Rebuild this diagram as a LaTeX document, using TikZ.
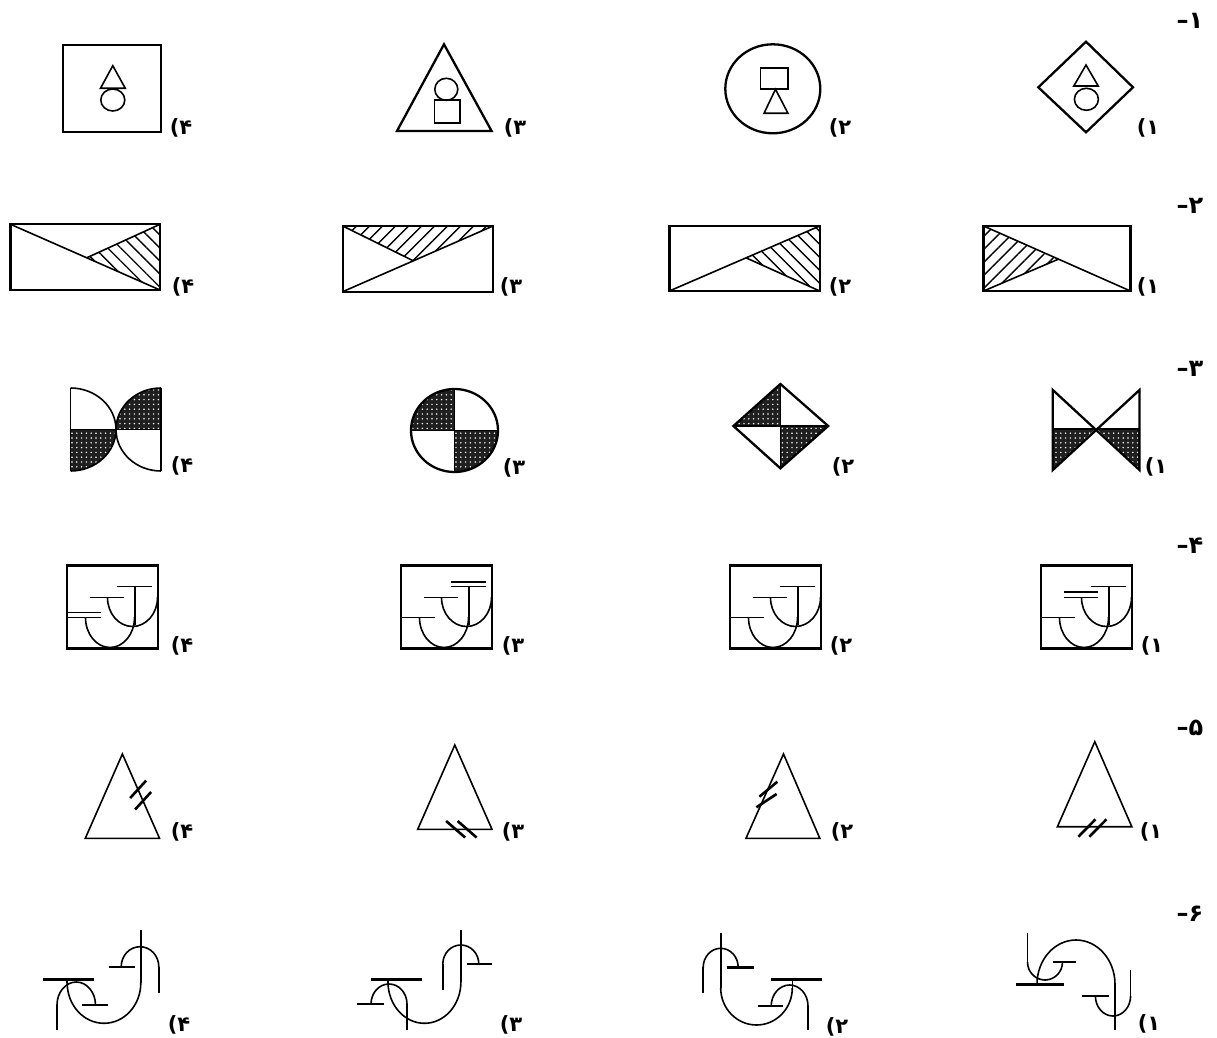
\documentclass[tikz,border=0pt]{standalone}
\usepackage{fontspec}
\newfontfamily\fa{DejaVu Sans}
\usetikzlibrary{calc,patterns.meta}
\tikzset{
  frame/.style={line width=1.15pt},
  fig/.style={line width=0.8pt},
  curve/.style={line width=0.8pt},
  bar/.style={line width=0.9pt},
  hbar/.style={line width=1.2pt},
  tick/.style={line width=1.3pt},
  lbl/.style={font=\fa\bfseries\fontsize{10.5}{12}\selectfont, inner sep=0pt},
  qlbl/.style={font=\fa\bfseries\fontsize{12}{14}\selectfont, inner sep=0pt},
  hatchA/.style={pattern={Lines[angle=45,distance=4.6pt,line width=0.7pt]}},
  hatchB/.style={pattern={Lines[angle=-45,distance=4.6pt,line width=0.7pt]}},
}
\newcommand\LowHalf[4]{\begin{scope}\clip ({#1-#3-3},{#2}) rectangle ({#1+#3+3},{#2+#4+3});\draw[curve] ({#1},{#2}) ellipse[x radius=#3,y radius=#4];\end{scope}}
\newcommand\UpHalf[4]{\begin{scope}\clip ({#1-#3-3},{#2-#4-3}) rectangle ({#1+#3+3},{#2});\draw[curve] ({#1},{#2}) ellipse[x radius=#3,y radius=#4];\end{scope}}
\newcommand\Stip[1]{\fill[black!88] #1; \fill[pattern={Dots[distance=2.4pt,radius=0.42pt]},pattern color=white] #1;}
\newcommand\Jfig[2]{%
  \draw[frame] (#1,#2) rectangle ({#1+91},{#2+83});
  \draw[bar] ({#1+50},{#2+21}) -- ({#1+85},{#2+21});
  \draw[bar] ({#1+68},{#2+21}) -- ({#1+68},{#2+59});
  \draw[bar] ({#1+23},{#2+32}) -- ({#1+57},{#2+32});
  \LowHalf{#1+65.5}{#2+32}{25}{29}
  \draw[bar] (#1,{#2+52}) -- ({#1+34},{#2+52});
  \LowHalf{#1+43}{#2+52}{24.5}{30}
}
\begin{document}
\begin{tikzpicture}[x=0.5pt,y=-0.5pt]
\path[use as bounding box, fill=white] (0,0) rectangle (1217,1038);

% ---------------- Row 1 ----------------
\node[qlbl] (q1) at (1190,21) {–۱};
% opt 4
\draw[frame] (63,45) rectangle (161,131.7);
\draw[fig] (112.8,65.7) -- (100.5,88.3) -- (125.3,88.3) -- cycle;
\draw[fig] (112.8,100) ellipse[x radius=12,y radius=11];
\node[lbl] (a14) at (181,128) {(۴};
% opt 3
\draw[frame] (444,44.3) -- (397,131) -- (491.6,131) -- cycle;
\draw[fig] (446.3,89.3) ellipse[x radius=11.5,y radius=11];
\draw[fig] (434.4,100.3) rectangle (459.7,123.3);
\node[lbl] (a13) at (515,128) {(۳};
% opt 2
\draw[frame] (772.8,88.8) ellipse[x radius=47.5,y radius=44.5];
\draw[fig] (760.6,68.3) rectangle (788,89.3);
\draw[fig] (775.5,89.3) -- (764,113.3) -- (788,113.3) -- cycle;
\node[lbl] (a12) at (840,128) {(۲};
% opt 1
\draw[frame] (1086,41.7) -- (1133,87.3) -- (1086,132.3) -- (1038.3,87.3) -- cycle;
\draw[fig] (1086,65) -- (1073.8,86) -- (1098.2,86) -- cycle;
\draw[fig] (1086.4,99.3) ellipse[x radius=12,y radius=11];
\node[lbl] (a11) at (1148,128) {(۱};

% ---------------- Row 2 ----------------
\node[qlbl] (q2) at (1190,206) {–۲};
% opt 4
\coordinate (p24) at ($(10.5,224.3)!0.51!(160,290)$);
\fill[hatchB] (p24) -- (160,224.3) -- (160,290) -- cycle;
\draw[frame] (10.5,224.3) rectangle (160,290);
\draw[fig] (10.5,224.3) -- (160,290);
\draw[fig] (p24) -- (160,224.3);
\node[lbl] (a24) at (183,287) {(۴};
% opt 3
\coordinate (p23) at ($(342.7,291.7)!0.47!(493,226)$);
\fill[hatchA] (342.7,226) -- (493,226) -- (p23) -- cycle;
\draw[frame] (342.7,226) rectangle (493,291.7);
\draw[fig] (342.7,291.7) -- (493,226);
\draw[fig] (342.7,226) -- (p23);
\node[lbl] (a23) at (511,287) {(۳};
% opt 2
\coordinate (p22) at ($(669.4,291)!0.51!(819.7,226)$);
\fill[hatchB] (p22) -- (819.7,226) -- (819.7,291) -- cycle;
\draw[frame] (669.4,226) rectangle (819.7,291);
\draw[fig] (669.4,291) -- (819.7,226);
\draw[fig] (p22) -- (819.7,291);
\node[lbl] (a22) at (840,287) {(۲};
% opt 1
\coordinate (p21) at ($(983.6,226)!0.51!(1130.4,291)$);
\fill[hatchA] (983.6,226) -- (p21) -- (983.6,291) -- cycle;
\draw[frame] (983.6,226) rectangle (1130.4,291);
\draw[fig] (983.6,226) -- (1130.4,291);
\draw[fig] (p21) -- (983.6,291);
\node[lbl] (a21) at (1148,287) {(۱};

% ---------------- Row 3 ----------------
\node[qlbl] (q3) at (1190,369) {–۳};
% opt 4
\begin{scope}\clip (70.5,429.5) rectangle (120,475);
  \Stip{(70.5,429.5) ellipse[x radius=45.5,y radius=41.5]}
\end{scope}
\begin{scope}\clip (110,380) rectangle (161,429.5);
  \Stip{(161,429.5) ellipse[x radius=45,y radius=41.5]}
\end{scope}
\begin{scope}\clip (70.5,380) rectangle (122,480);
  \draw[fig] (70.5,429.5) ellipse[x radius=45.5,y radius=41.5];
\end{scope}
\begin{scope}\clip (110,380) rectangle (161,480);
  \draw[fig] (161,429.5) ellipse[x radius=45,y radius=41.5];
\end{scope}
\draw[fig] (70.5,388) -- (70.5,471);
\draw[fig] (161,388) -- (161,471);
\draw[fig] (70.5,429.5) -- (161,429.5);
\node[lbl] (a34) at (182,466) {(۴};
% opt 3
\begin{scope}\clip (405,385) rectangle (454.5,430.5);
  \Stip{(454.5,430.5) ellipse[x radius=43.5,y radius=41.5]}
\end{scope}
\begin{scope}\clip (454.5,430.5) rectangle (505,476);
  \Stip{(454.5,430.5) ellipse[x radius=43.5,y radius=41.5]}
\end{scope}
\draw[frame] (454.5,430.5) ellipse[x radius=43.5,y radius=41.5];
\draw[fig] (454.5,389) -- (454.5,472);
\draw[fig] (411,430.5) -- (498,430.5);
\node[lbl] (a33) at (514,468) {(۳};
% opt 2
\Stip{(780.4,384) -- (780.4,426) -- (733.4,426) -- cycle}
\Stip{(780.4,426) -- (828.2,426) -- (780.4,468.3) -- cycle}
\draw[frame] (780.4,384) -- (828.2,426) -- (780.4,468.3) -- (733.4,426) -- cycle;
\draw[fig] (780.4,384) -- (780.4,468.3);
\draw[fig] (733.4,426) -- (828.2,426);
\node[lbl] (a32) at (843,467) {(۲};
% opt 1
\Stip{(1052.8,429) -- (1095.1,429) -- (1052.8,470) -- cycle}
\Stip{(1139.5,429) -- (1097.3,429) -- (1139.5,470) -- cycle}
\draw[frame] (1052.8,390) -- (1052.8,470) -- (1139.5,390) -- (1139.5,470) -- cycle;
\draw[fig] (1052.8,429) -- (1139.5,429);
\node[lbl] (a31) at (1156,467) {(۱};

% ---------------- Row 4 ----------------
\node[qlbl] (q4) at (1190,546) {–۴};
\Jfig{67}{565.5}
\draw[bar] (67,612.5) -- (101,612.5);
\node[lbl] (a44) at (182,646) {(۴};
\Jfig{401}{565.5}
\draw[bar] (451,582) -- (486,582);
\node[lbl] (a43) at (513,646) {(۳};
\Jfig{730}{565.5}
\node[lbl] (a42) at (841,646) {(۲};
\Jfig{1041}{565.5}
\draw[bar] (1064,592) -- (1098,592);
\node[lbl] (a41) at (1152,646) {(۱};

% ---------------- Row 5 ----------------
\node[qlbl] (q5) at (1190,728) {–۵};
% opt 4
\draw[fig] (122.4,754) -- (85.3,838.3) -- (159.5,838.3) -- cycle;
\draw[tick] (130.2,798) -- (146.2,780.5);
\draw[tick] (135.1,809.5) -- (151.1,792);
\node[lbl] (a54) at (182,832) {(۴};
% opt 3
\draw[fig] (454.8,745) -- (417.7,829.3) -- (492,829.3) -- cycle;
\draw[tick] (446.1,821) -- (465.1,837.5);
\draw[tick] (457.6,821) -- (476.6,837.5);
\node[lbl] (a53) at (513,832) {(۳};
% opt 2
\draw[fig] (783.5,754) -- (746,838.3) -- (819.8,838.3) -- cycle;
\draw[tick] (759.4,796.7) -- (777.4,781.7);
\draw[tick] (756.4,807.3) -- (776.6,794);
\node[lbl] (a52) at (842,832) {(۲};
% opt 1
\draw[fig] (1094.8,741.7) -- (1057.4,826.7) -- (1131.8,826.7) -- cycle;
\draw[tick] (1078.4,836.7) -- (1095.5,819.3);
\draw[tick] (1089.4,836.7) -- (1106.5,819.3);
\node[lbl] (a51) at (1151,832) {(۱};

% ---------------- Row 6 ----------------
\node[qlbl] (q6) at (1190,914) {–۶};
% opt 4
\draw[curve] (140.8,930) -- (140.8,983);
\LowHalf{104}{983}{36.8}{40.3}
\draw[curve] (67.2,983) -- (67.2,979.3);
\draw[hbar] (43.4,979.3) -- (93.6,979.3);
\UpHalf{140}{966.7}{18.8}{20}
\draw[curve] (158.8,966.7) -- (158.8,993.3);
\draw[hbar] (108.7,966.7) -- (135.1,966.7);
\UpHalf{76.25}{1005}{19.25}{23}
\draw[curve] (57,1005) -- (57,1030);
\draw[hbar] (82.3,1005) -- (107.6,1005);
\node[lbl] (a64) at (179,1025) {(۴};
% opt 3
\draw[curve] (460.9,930) -- (460.9,982);
\LowHalf{424.45}{982}{36.45}{41.3}
\draw[curve] (388,982) -- (388,979.3);
\draw[hbar] (371,979.3) -- (422,979.3);
\UpHalf{460.8}{964}{18}{19}
\draw[curve] (442.8,964) -- (442.8,990);
\draw[hbar] (467.3,964) -- (491.9,964);
\UpHalf{389}{1004}{18}{20}
\draw[curve] (407,1004) -- (407,1030);
\draw[hbar] (357,1004) -- (384.3,1004);
\node[lbl] (a63) at (511,1025) {(۳};
% opt 2
\draw[curve] (720.7,932.7) -- (720.7,988);
\LowHalf{756.5}{988}{35.8}{37}
\draw[curve] (792.3,988) -- (792.3,979.3);
\draw[hbar] (771.2,979.3) -- (821.7,979.3);
\UpHalf{789.6}{1006}{18.4}{21}
\draw[curve] (808,1006) -- (808,1030);
\draw[hbar] (757.6,1006) -- (782.8,1006);
\UpHalf{720.7}{967.3}{17.5}{19}
\draw[curve] (703.2,967.3) -- (703.2,993.3);
\draw[hbar] (726.5,967.3) -- (753.7,967.3);
\node[lbl] (a62) at (837,1027) {(۲};
% opt 1
\LowHalf{1045}{962}{17.5}{18}
\draw[curve] (1027.5,933.3) -- (1027.5,962);
\draw[hbar] (1052.7,962) -- (1076,962);
\draw[hbar] (1015.8,984.3) -- (1064.4,984.3);
\UpHalf{1076}{984.3}{39}{44.3}
\draw[curve] (1115,984.3) -- (1115,1030);
\draw[hbar] (1081.8,996) -- (1109,996);
\LowHalf{1113}{996}{17.6}{20}
\draw[curve] (1130.6,996) -- (1130.6,970);
\node[lbl] (a61) at (1149,1024) {(۱};
\end{tikzpicture}
\end{document}
